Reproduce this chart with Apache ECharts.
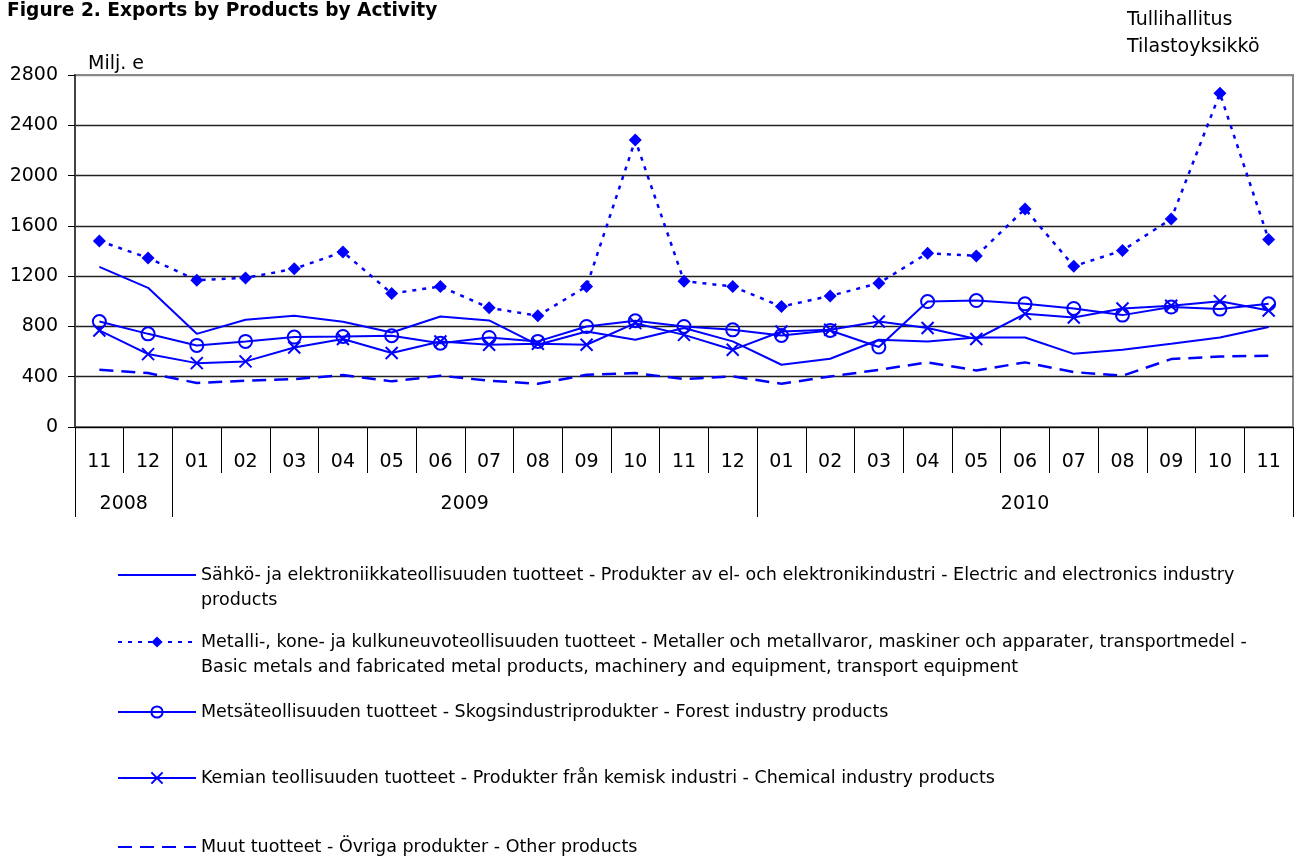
<!DOCTYPE html>
<html>
<head>
<meta charset="utf-8">
<script src="https://cdn.jsdelivr.net/npm/echarts@6/dist/echarts.min.js"></script>
<style>
html,body{margin:0;padding:0;background:#fff;}
#chart{width:1298px;height:859px;}
</style>
</head>
<body>
<div id="chart"></div>
<script>
// ---- data ----
const months = ['11','12','01','02','03','04','05','06','07','08','09','10','11','12','01','02','03','04','05','06','07','08','09','10','11'];
const yearLabels = ['2008','2009','2010'];
const yearMonthCounts = [2, 12, 11];
const yTicks = [0, 400, 800, 1200, 1600, 2000, 2400, 2800];

const seriesNames = [
  'Sähkö- ja elektroniikkateollisuuden tuotteet - Produkter av el- och elektronikindustri - Electric and electronics industry products',
  'Metalli-, kone- ja kulkuneuvoteollisuuden tuotteet - Metaller och metallvaror, maskiner och apparater, transportmedel - Basic metals and fabricated metal products, machinery and equipment, transport equipment',
  'Metsäteollisuuden tuotteet - Skogsindustriprodukter - Forest industry products',
  'Kemian teollisuuden tuotteet - Produkter från kemisk industri - Chemical industry products',
  'Muut tuotteet - Övriga produkter - Other products'
];
const legendLabels = [
  'Sähkö- ja elektroniikkateollisuuden tuotteet - Produkter av el- och elektronikindustri - Electric and electronics industry\nproducts',
  'Metalli-, kone- ja kulkuneuvoteollisuuden tuotteet - Metaller och metallvaror, maskiner och apparater, transportmedel -\nBasic metals and fabricated metal products, machinery and equipment, transport equipment',
  'Metsäteollisuuden tuotteet - Skogsindustriprodukter - Forest industry products',
  'Kemian teollisuuden tuotteet - Produkter från kemisk industri - Chemical industry products',
  'Muut tuotteet - Övriga produkter - Other products'
];

const electric = [1274, 1107, 741, 853, 885, 837, 752, 879, 848, 654, 760, 694, 787, 681, 495, 543, 694, 681, 712, 712, 582, 614, 662, 712, 795];
const metal    = [1480, 1345, 1168, 1186, 1258, 1393, 1062, 1118, 948, 885, 1118, 2283, 1160, 1118, 958, 1043, 1144, 1383, 1361, 1735, 1279, 1404, 1655, 2654, 1491];
const forest   = [839, 741, 649, 681, 715, 720, 726, 667, 712, 681, 800, 845, 800, 773, 728, 768, 636, 998, 1006, 980, 943, 890, 954, 938, 980];
const chemical = [768, 580, 508, 522, 633, 700, 588, 680, 654, 662, 654, 826, 733, 614, 760, 773, 839, 787, 700, 900, 871, 943, 964, 1001, 927];
const other    = [455, 429, 350, 368, 381, 413, 363, 408, 368, 344, 415, 429, 381, 402, 344, 402, 455, 514, 450, 514, 437, 408, 540, 561, 567];

// ---- derived year boundaries / centers ----
const yearBounds = [0];
yearMonthCounts.forEach(c => yearBounds.push(yearBounds[yearBounds.length - 1] + c));
const yearCenters = yearLabels.map((y, i) => (yearBounds[i] + yearBounds[i + 1]) / 2);

const FONT = 'DejaVu Sans';
const BLUE = '#0000ff';
const noSymbol = [true, false, false, false, true];

const chart = echarts.init(document.getElementById('chart'));

const legendTops = [537.5, 604.5, 699.5, 765.5, 834.5];
const legends = seriesNames.map((n, i) => ({
  data: [noSymbol[i] ? { name: n, itemStyle: { opacity: 0 } } : { name: n }],
  left: 117,
  top: legendTops[i],
  orient: 'vertical',
  padding: 0,
  itemWidth: 78,
  itemHeight: 14,
  itemGap: 0,
  selectedMode: false,
  formatter: function (name) {
    const lbl = legendLabels[seriesNames.indexOf(name)];
    return lbl.indexOf('\n') >= 0 ? '\n' + lbl : lbl;
  },
  textStyle: { fontFamily: FONT, fontSize: 17.5, color: '#000', lineHeight: 25 }
}));

const option = {
  backgroundColor: '#fff',
  animation: false,
  title: [
    {
      text: 'Figure 2. Exports by Products by Activity',
      left: 7, top: 2, padding: 0,
      textStyle: { fontFamily: FONT, fontSize: 18.6, fontWeight: 'bold', color: '#000' }
    },
    {
      text: 'Tullihallitus\nTilastoyksikkö',
      left: 1127, top: 7, padding: 0,
      textStyle: { fontFamily: FONT, fontSize: 19, fontWeight: 'normal', color: '#000', lineHeight: 27 }
    }
  ],
  legend: legends,
  grid: {
    left: 75, right: 5, top: 75, bottom: 432,
    show: true, borderColor: '#888', borderWidth: 2, backgroundColor: '#fff'
  },
  xAxis: [
    {
      type: 'category',
      data: months,
      boundaryGap: true,
      axisLine: { show: true, lineStyle: { color: '#000', width: 1 } },
      axisTick: { show: true, length: 46, alignWithLabel: false, lineStyle: { color: '#000', width: 1 } },
      axisLabel: { fontFamily: FONT, fontSize: 19, color: '#000', margin: 26, interval: 0 },
      splitLine: { show: false }
    },
    {
      type: 'value',
      min: 0, max: yearBounds[yearBounds.length - 1],
      position: 'bottom',
      axisLine: { show: false },
      axisTick: { show: true, length: 90, customValues: yearBounds, lineStyle: { color: '#000', width: 1 } },
      axisLabel: {
        show: true, customValues: yearCenters, margin: 68,
        fontFamily: FONT, fontSize: 19, color: '#000',
        formatter: function (v) {
          const idx = yearCenters.indexOf(v);
          return idx >= 0 ? yearLabels[idx] : '';
        }
      },
      splitLine: { show: false }
    }
  ],
  yAxis: {
    type: 'value',
    min: yTicks[0], max: yTicks[yTicks.length - 1], interval: yTicks[1] - yTicks[0],
    name: 'Milj. e',
    nameLocation: 'end',
    nameGap: 1,
    nameTextStyle: { fontFamily: FONT, fontSize: 19, color: '#000', align: 'left', verticalAlign: 'bottom', padding: [0, 0, 0, 13] },
    axisLine: { show: true, lineStyle: { color: '#444', width: 2 } },
    axisTick: { show: true, length: 7, lineStyle: { color: '#000', width: 1 } },
    axisLabel: { fontFamily: FONT, fontSize: 19, color: '#000', margin: 17, formatter: function (v) { return String(v); } },
    splitLine: { show: true, lineStyle: { color: ['#222', '#222', '#222', '#222', '#222', '#222', '#222', '#888'], width: 1.3 } }
  },
  series: [
    {
      name: seriesNames[0], type: 'line', data: electric, xAxisIndex: 0,
      symbol: 'none',
      lineStyle: { color: BLUE, width: 2 },
      itemStyle: { color: BLUE }
    },
    {
      name: seriesNames[1], type: 'line', data: metal, xAxisIndex: 0,
      symbol: 'diamond', symbolSize: 13, showAllSymbol: true,
      lineStyle: { color: BLUE, width: 2.5, type: [4, 6] },
      itemStyle: { color: BLUE, borderWidth: 0 }
    },
    {
      name: seriesNames[2], type: 'line', data: forest, xAxisIndex: 0,
      symbol: 'circle', symbolSize: 13, showAllSymbol: true,
      lineStyle: { color: BLUE, width: 2 },
      itemStyle: { color: 'rgba(0,0,0,0)', borderColor: BLUE, borderWidth: 2 }
    },
    {
      name: seriesNames[3], type: 'line', data: chemical, xAxisIndex: 0,
      symbol: 'path://M0,0L10,10M10,0L0,10', symbolSize: 12, showAllSymbol: true,
      lineStyle: { color: BLUE, width: 2 },
      itemStyle: { color: BLUE, borderColor: BLUE, borderWidth: 2 }
    },
    {
      name: seriesNames[4], type: 'line', data: other, xAxisIndex: 0,
      symbol: 'none',
      lineStyle: { color: BLUE, width: 2.5, type: [14, 8] },
      itemStyle: { color: BLUE }
    }
  ]
};

chart.setOption(option);
</script>
</body>
</html>
